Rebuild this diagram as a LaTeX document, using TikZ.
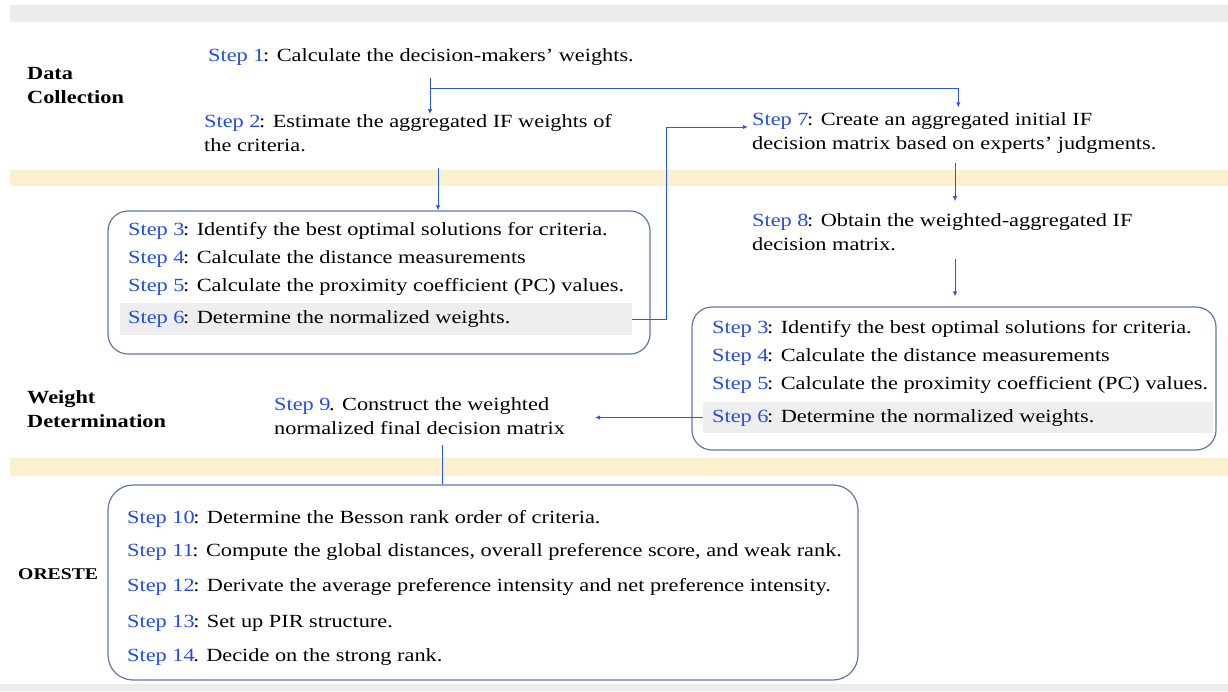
\documentclass[tikz,border=0pt]{standalone}
\usepackage{fontspec}
\setmainfont[FakeStretch=1.2]{Liberation Serif}
\usepackage{tikz}
\usetikzlibrary{arrows.meta}
\definecolor{stepblue}{RGB}{35,75,235}
\definecolor{arrowblue}{RGB}{40,85,240}
\definecolor{boxline}{RGB}{95,120,170}
\definecolor{bandyellow}{RGB}{253,240,205}
\definecolor{bandgrey}{RGB}{236,236,236}
\definecolor{rowgrey}{RGB}{238,238,238}
\newcommand{\stp}[1]{\textcolor{stepblue}{Step #1}\kern-1.5pt}

\begin{document}
\begin{tikzpicture}[x=1pt, y=-1pt,
    txt/.style={anchor=west, inner sep=0pt, font=\fontsize{18.6}{24}\selectfont, align=left},
    phase/.style={anchor=west, inner sep=0pt, font=\fontsize{18.6}{24}\selectfont\bfseries, align=left},
    stepbox/.style={draw=boxline, line width=1.2pt, rounded corners=20pt},
    rowfill/.style={fill=rowgrey, inner sep=0pt},
    arr/.style={draw=arrowblue, line width=1pt, -{Latex[length=5pt,width=4.5pt]}},
    link/.style={draw=arrowblue, line width=1pt}]
        \useasboundingbox (0,0) rectangle (1228,691);
        \fill[white] (0,0) rectangle (1228,691);
        \fill[bandgrey] (10,5) rectangle (1228,22);
        \fill[bandyellow] (10,170) rectangle (1228,186);
        \fill[bandyellow] (10,458) rectangle (1228,476);
        \fill[bandgrey] (0,684) rectangle (1228,691);

        \node[phase] (dc) at (27,85) {Data\\Collection};
        \node[phase] (wd) at (27,409) {Weight\\Determination};
        \node[phase, font=\fontsize{16.4}{24}\selectfont\bfseries] (or) at (18,574) {ORESTE};

        \node[txt] (s1) at (208,57) {\stp{1}: Calculate the decision-makers' weights.};
        \node[txt] (s2) at (204,133) {\stp{2}: Estimate the aggregated IF weights of\\the criteria.};
        \node[txt] (s7) at (752,133) {\stp{7}: Create an aggregated initial IF\\decision matrix based on experts' judgments.};
        \node[txt] (s8) at (752,232) {\stp{8}: Obtain the weighted-aggregated IF\\decision matrix.};
        \node[txt] (s9) at (274,416) {\stp{9}. Construct the weighted\\normalized final decision matrix};

        \node[stepbox, minimum width=542pt, minimum height=143pt] (box1) at (379,282.5) {};
        \node[rowfill, minimum width=512pt, minimum height=32pt] (hl1) at (376,319) {};
        \node[txt] (b1r3) at (128,231) {\stp{3}: Identify the best optimal solutions for criteria.};
        \node[txt] (b1r4) at (128,259) {\stp{4}: Calculate the distance measurements};
        \node[txt] (b1r5) at (128,287) {\stp{5}: Calculate the proximity coefficient (PC) values.};
        \node[txt] (b1r6) at (128,319) {\stp{6}: Determine the normalized weights.};

        \node[stepbox, minimum width=524pt, minimum height=143pt] (box2) at (954,378.5) {};
        \node[rowfill, minimum width=510pt, minimum height=31pt] (hl2) at (958,417.5) {};
        \node[txt] (b2r3) at (712,329) {\stp{3}: Identify the best optimal solutions for criteria.};
        \node[txt] (b2r4) at (712,357) {\stp{4}: Calculate the distance measurements};
        \node[txt] (b2r5) at (712,385) {\stp{5}: Calculate the proximity coefficient (PC) values.};
        \node[txt] (b2r6) at (712,418) {\stp{6}: Determine the normalized weights.};

        \node[stepbox, rounded corners=25pt, minimum width=750pt, minimum height=195pt] (box3) at (483,582.5) {};
        \node[txt] (b3r10) at (127,519) {\stp{10}: Determine the Besson rank order of criteria.};
        \node[txt] (b3r11) at (127,552) {\stp{11}: Compute the global distances, overall preference score, and weak rank.};
        \node[txt] (b3r12) at (127,587) {\stp{12}: Derivate the average preference intensity and net preference intensity.};
        \node[txt] (b3r13) at (127,623) {\stp{13}: Set up PIR structure.};
        \node[txt] (b3r14) at (127,657) {\stp{14}. Decide on the strong rank.};

        \coordinate (split) at (430,88);
        \coordinate (x2) at (438,168);
        \coordinate (x7) at (955,0);
        \coordinate (x9) at (442,0);
        \draw[arr, shorten <=12pt] (s1.south -| split) -- (s2.north -| split);
        \draw[arr, shorten >=5pt] (split) -| ([xshift=4pt]s7.north);
        \draw[arr] (x2) -- (box1.north -| x2);
        \draw[arr, shorten >=4pt] (hl1.east) -- ++(34,0) |- ([yshift=6pt]s7.west);
        \draw[arr, shorten <=9pt, shorten >=12pt] (s7.south -| x7) -- (s8.north -| x7);
        \draw[arr, shorten <=8pt, shorten >=10pt] (s8.south -| x7) -- (box2.north -| x7);
        \draw[arr, shorten >=30pt] (hl2.west) -- (hl2.west -| s9.east);
        \draw[link, shorten <=10pt] (s9.south -| x9) -- (box3.north -| x9);
\end{tikzpicture}
\end{document}
